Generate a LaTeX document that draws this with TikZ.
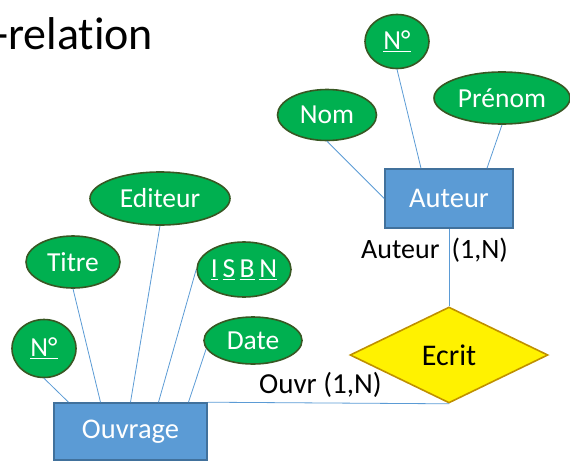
\documentclass[tikz,border=0pt]{standalone}
\usepackage{fontspec}
\setmainfont{Carlito}[Ligatures=CommonOff]
\usetikzlibrary{shapes.geometric,positioning}
\definecolor{attrgreen}{HTML}{00B050}
\definecolor{attrborder}{HTML}{385723}
\definecolor{entblue}{HTML}{5B9BD5}
\definecolor{entborder}{HTML}{41719C}
\definecolor{relborder}{HTML}{BF9000}
\tikzset{
	attr/.style={ellipse, fill=attrgreen, draw=attrborder, line width=1.6pt, inner sep=0pt, text=white, font=\fontsize{27.5}{30}\selectfont},
	entity/.style={rectangle, fill=entblue, draw=entborder, line width=1.6pt, inner sep=0pt, text=white, font=\fontsize{28.5}{30}\selectfont},
	relation/.style={diamond, aspect=2, fill=yellow, draw=relborder, line width=1.6pt, inner sep=0pt, minimum width=198pt, minimum height=96pt, font=\fontsize{30}{32}\selectfont},
	card/.style={inner sep=0pt, anchor=base west, font=\fontsize{28}{30}\selectfont},
	link/.style={draw=entblue, line width=0.8pt}
}
\begin{document}
\begin{tikzpicture}[x=1pt,y=-1pt]
		\useasboundingbox (0,0) rectangle (570,461);
		\node[inner sep=0pt, anchor=base west, font=\fontsize{46}{50}\selectfont] (title) at (-6,49) {-relation};
		
		\node[entity, minimum width=128pt, minimum height=59pt] (auteur) at (449,198.5) {Auteur};
		\node[entity, minimum width=153pt, minimum height=57pt] (ouvrage) at (130.5,431.5) {Ouvrage};
		\node[relation] (ecrit) at (449,355) {Ecrit};
		
		\node[attr, minimum width=64pt, minimum height=54pt] (aNum) at (397,41.5) {\underline{N°}};
		\node[attr, minimum width=99pt, minimum height=51pt] (aNom) at (327,115) {Nom};
		\node[attr, minimum width=136pt, minimum height=52pt] (aPrenom) at (502,98) {Prénom};
		
		\node[attr, minimum width=64pt, minimum height=58pt] (oNum) at (44,348.5) {\underline{N°}};
		\node[attr, minimum width=94pt, minimum height=52pt] (oTitre) at (73,262) {Titre};
		\node[attr, minimum width=140pt, minimum height=53pt] (oEditeur) at (160,198.5) {Editeur};
		\node[attr, minimum width=94pt, minimum height=55pt] (oIsbn) at (244,269.5) {\underline{I}\,\underline{S}\,\underline{B}\,\underline{N}};
		\node[attr, minimum width=98pt, minimum height=47pt] (oDate) at (253,340.5) {Date};
		
		\node[card] (lAuteur) at (361,258) {Auteur\hspace{12pt}(1,N)};
		\node[card, font=\fontsize{29}{30}\selectfont] (lOuvr) at (259,393) {Ouvr (1,N)};
		
		\draw[link] (aNum.south) -- ([xshift=-28pt]auteur.north);
		\draw[link] (aNom.south) -- (auteur.west);
		\draw[link] (aPrenom.south) -- ([xshift=38pt]auteur.north);
		\draw[link] (auteur.south) -- (ecrit.north);
		
		\draw[link] (oNum.south) -- ([xshift=-62pt]ouvrage.north);
		\draw[link] (oTitre.south) -- ([xshift=-30pt]ouvrage.north);
		\draw[link] (oEditeur.south) -- (ouvrage.north);
		\draw[link] (oIsbn.west) -- ([xshift=28pt]ouvrage.north);
		\draw[link] (oDate.190) -- ([xshift=58pt]ouvrage.north);
		\draw[link] (ouvrage.north east) -- (ecrit.south);
	\end{tikzpicture}
\end{document}
